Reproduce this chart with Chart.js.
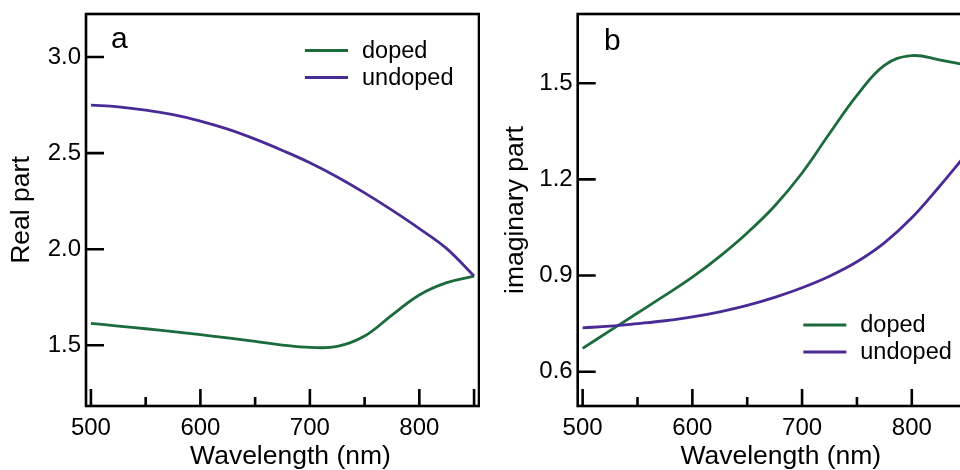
<!DOCTYPE html>
<html><head><meta charset="utf-8">
<script src="https://cdn.jsdelivr.net/npm/chart.js@4.4.1/dist/chart.umd.min.js"></script>
<style>
html,body{margin:0;padding:0;background:#fff;overflow:hidden;width:960px;height:470px;}
#wrapA{position:absolute;left:0;top:0;width:480px;height:470px;}
#wrapB{position:absolute;left:480px;top:0;width:500px;height:470px;}
canvas{display:block;}
</style></head><body>
<div id="wrapA"><canvas id="cA" width="480" height="470"></canvas></div>
<div id="wrapB"><canvas id="cB" width="500" height="470"></canvas></div>
<script>
// ---- data ----
const wavelengths = [500,525,550,575,600,625,650,675,700,725,750,775,800,825,850];
const realDoped   = [1.614,1.600,1.586,1.571,1.555,1.538,1.520,1.501,1.489,1.494,1.548,1.657,1.762,1.826,1.860];
const realUndoped = [2.750,2.741,2.724,2.700,2.667,2.625,2.573,2.514,2.450,2.376,2.293,2.203,2.107,2.003,1.860];
const imagDoped   = [0.673,0.728,0.783,0.838,0.895,0.960,1.033,1.117,1.220,1.343,1.462,1.556,1.586,1.573,1.556];
const imagUndoped = [0.737,0.742,0.750,0.759,0.771,0.787,0.807,0.832,0.862,0.898,0.943,1.002,1.080,1.177,1.280];
const seriesLabels = ['doped','undoped'];
const xTickValues = [500,550,600,650,700,750,800,850];
const realTickValues = [1.5,2.0,2.5,3.0];
const imagTickValues = [0.6,0.9,1.2,1.5];
const xTitle = 'Wavelength (nm)';

const GREEN = '#1c6b3c';
const PURPLE = '#4a2b96';
const FONT = "'Liberation Sans', Arial, sans-serif";
Chart.defaults.font.family = FONT;
Chart.defaults.color = '#000';

const framePlugin = {
  id: 'frameTicks',
  afterDraw(chart, args, opts) {
    const {ctx, chartArea: a, scales} = chart;
    ctx.save();
    ctx.strokeStyle = '#000';
    ctx.lineWidth = 2.6;
    ctx.strokeRect(a.left, a.top, a.right - a.left, a.bottom - a.top);
    ctx.beginPath();
    xTickValues.forEach(v => {
      const px = scales.x.getPixelForValue(v);
      const len = (v % 100 === 0 || v === 850) ? 17 : 9;
      ctx.moveTo(px, a.bottom); ctx.lineTo(px, a.bottom - len);
    });
    opts.yTicks.forEach(v => {
      const py = scales.y.getPixelForValue(v);
      ctx.moveTo(a.left, py); ctx.lineTo(a.left + 18, py);
    });
    ctx.stroke();
    ctx.fillStyle = '#000';
    // x axis title
    ctx.font = '26.5px ' + FONT;
    ctx.textAlign = 'center';
    ctx.textBaseline = 'alphabetic';
    ctx.fillText(xTitle, opts.xTitleX, 463.5);
    // panel letter
    ctx.font = '30px ' + FONT;
    ctx.textAlign = 'left';
    ctx.fillText(opts.letter, opts.letterX, opts.letterY);
    // legend
    ctx.font = '23.5px ' + FONT;
    ctx.textBaseline = 'middle';
    chart.data.datasets.forEach((ds, i) => {
      const y = opts.legY + i * 27;
      ctx.strokeStyle = ds.borderColor;
      ctx.lineWidth = 2.8;
      ctx.beginPath();
      ctx.moveTo(opts.legX, y); ctx.lineTo(opts.legX + 43, y);
      ctx.stroke();
      ctx.fillText(ds.label, opts.legX + 57, y + 1);
    });
    ctx.restore();
  }
};

function zeroPad(s) { s.paddingTop = 0; s.paddingBottom = 0; s.paddingLeft = 0; s.paddingRight = 0; }

function makeChart(id, cfg) {
  const pts = ys => wavelengths.map((x, i) => ({x: x, y: ys[i]}));
  return new Chart(document.getElementById(id), {
    type: 'line',
    data: {datasets: [
      {label: seriesLabels[0], data: pts(cfg.doped), borderColor: GREEN, order: 1},
      {label: seriesLabels[1], data: pts(cfg.undoped), borderColor: PURPLE, order: 0}
    ]},
    options: {
      responsive: false, animation: false, devicePixelRatio: 1,
      layout: {padding: {top: 14, right: cfg.padRight, left: 0, bottom: 0}},
      elements: {point: {radius: 0}, line: {borderWidth: 2.8, tension: 0.4, fill: false}},
      plugins: {legend: {display: false}, tooltip: {enabled: false},
        frameTicks: {yTicks: cfg.yTicks, letter: cfg.letter, letterX: cfg.letterX, letterY: cfg.letterY,
                     legX: cfg.legX, legY: cfg.legY, xTitleX: cfg.xTitleX}},
      scales: {
        x: {
          type: 'linear', min: 495.5, max: 854.5,
          afterBuildTicks: s => { s.ticks = xTickValues.map(v => ({value: v})); },
          afterFit: s => { s.height = 64; zeroPad(s); },
          ticks: {callback: v => (v % 100 === 0 ? String(v) : ''), font: {size: 24}, color: '#000', padding: 8, maxRotation: 0, autoSkip: false},
          grid: {display: false, drawTicks: false}, border: {display: false},
          title: {display: false}
        },
        y: {
          type: 'linear', min: cfg.yMin, max: cfg.yMax,
          afterBuildTicks: s => { s.ticks = cfg.yTicks.map(v => ({value: v})); },
          afterFit: s => { s.width = cfg.yWidth; zeroPad(s); },
          ticks: {callback: v => v.toFixed(1), font: {size: 24}, color: '#000', padding: 5, autoSkip: false},
          grid: {display: false, drawTicks: false}, border: {display: false},
          title: {display: true, text: cfg.yTitle, font: {size: 26.5}, color: '#000', padding: {top: cfg.yTitlePad, bottom: 0}}
        }
      }
    },
    plugins: [framePlugin]
  });
}

makeChart('cA', {doped: realDoped, undoped: realUndoped, yMin: 1.184, yMax: 3.224, yTicks: realTickValues,
  yWidth: 86, padRight: 1, yTitle: 'Real part', yTitlePad: 6, xTitleX: 290.5,
  letter: 'a', letterX: 111, letterY: 47.5, legX: 305, legY: 50.5});
makeChart('cB', {doped: imagDoped, undoped: imagUndoped, yMin: 0.493, yMax: 1.716, yTicks: imagTickValues,
  yWidth: 97.7, padRight: 8.4, yTitle: 'imaginary part', yTitlePad: 20, xTitleX: 300.8,
  letter: 'b', letterX: 124, letterY: 50, legX: 323.3, legY: 325});
</script>
</body></html>
